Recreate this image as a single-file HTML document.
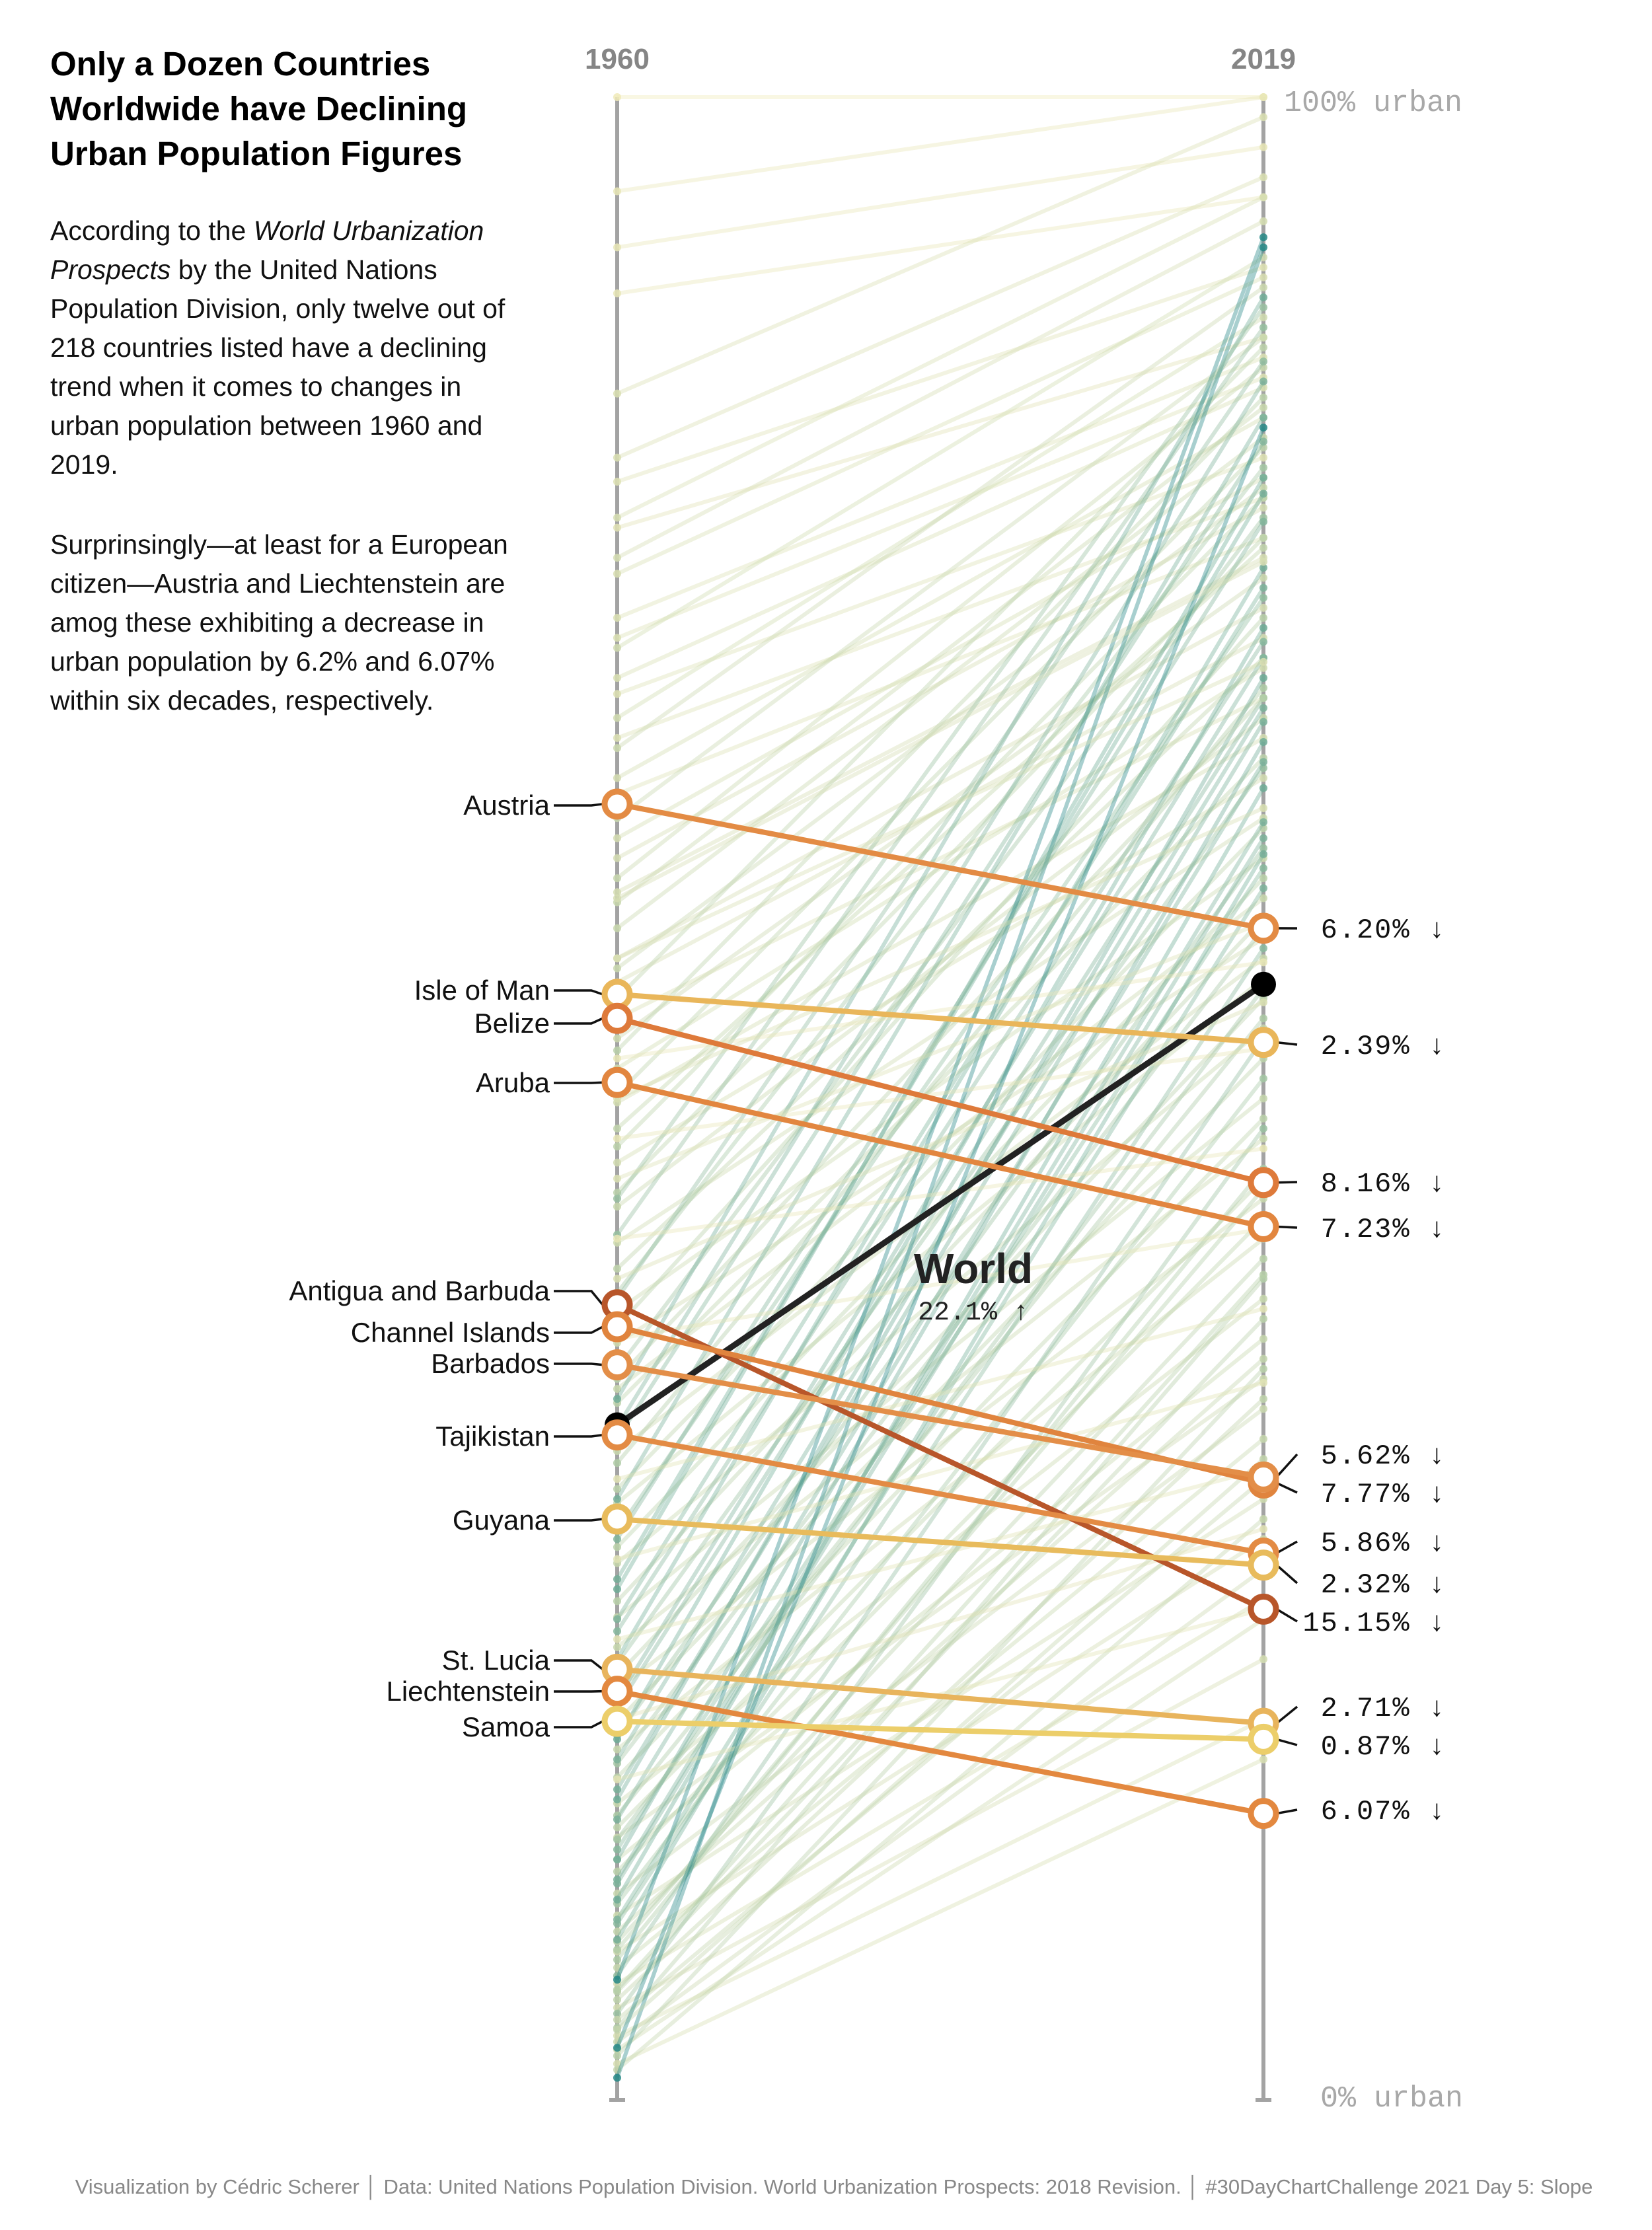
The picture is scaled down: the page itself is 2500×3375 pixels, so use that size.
<!DOCTYPE html>
<html><head><meta charset="utf-8"><style>
html,body{margin:0;padding:0;background:#fff;}
svg{display:block;}
.t{font-family:"Liberation Sans",sans-serif;}
.m{font-family:"Liberation Mono",monospace;}
</style></head><body>
<svg id="chart" width="2500" height="3375" viewBox="0 0 2500 3375" xmlns="http://www.w3.org/2000/svg">
<g class="t" font-weight="bold" font-size="51" fill="#000">
<text x="76" y="114">Only a Dozen Countries</text>
<text x="76" y="182">Worldwide have Declining</text>
<text x="76" y="250">Urban Population Figures</text>
</g>
<g class="t" font-size="41" fill="#111">
<text x="76" y="363">According to the <tspan font-style="italic">World Urbanization</tspan></text>
<text x="76" y="422"><tspan font-style="italic">Prospects</tspan> by the United Nations</text>
<text x="76" y="481">Population Division, only twelve out of</text>
<text x="76" y="540">218 countries listed have a declining</text>
<text x="76" y="599">trend when it comes to changes in</text>
<text x="76" y="658">urban population between 1960 and</text>
<text x="76" y="717">2019.</text>
<text x="76" y="838">Surprinsingly—at least for a European</text>
<text x="76" y="897">citizen—Austria and Liechtenstein are</text>
<text x="76" y="956">amog these exhibiting a decrease in</text>
<text x="76" y="1015">urban population by 6.2% and 6.07%</text>
<text x="76" y="1074">within six decades, respectively.</text>
</g>
<g id="axes"></g>
<g id="bg"></g>
<g id="hl"></g>
<text class="t" x="1262" y="3320" font-size="31" fill="#888" text-anchor="middle">Visualization by Cédric Scherer │ Data: United Nations Population Division. World Urbanization Prospects: 2018 Revision. │ #30DayChartChallenge 2021 Day 5: Slope</text>
</svg>
<script>
const years = ["1960","2019"];
const bg1960 = [100,95.3,92.5,90.2,85.2,82,80.8,79,78.5,77,76.2,74,73,72.5,71,70.2,69,68,67.5,66,65.2,64,63,62,61,60.3,59.8,58.5,57,56.5,55.8,55,54,53,52.4,51.5,50.2,49.8,48.5,47.6,46.8,45.3,44.6,43.2,42.8,41.5,40.3,39.4,38.6,37.8,36.5,35.5,34.8,33.6,32.4,31.8,30.5,29.8,28.4,27.6,26.8,25.5,24.9,24.1,23.4,22.6,21.8,21.2,20.5,19.6,18.9,18.2,17.5,16.8,16.1,15.5,14.8,14.2,13.6,13.1,12.5,12,11.4,10.8,10.3,9.8,9.2,8.8,8.4,7.9,7.4,7,6.6,6.2,5.8,5.4,5,4.6,4.3,4,3.6,3.2,2.9,2.5,2.2,1.8,1.5,1.1,35,30,26,22,18,15,12,10,8,6,45,40,33,28,24,20,17,14,11,9,52,48,43,38,31,27,23,19,16,13,7.5,5.5,3.5,2.6,60,57,50,46,41,36];
const bg2019 = [100,100,97.5,95,99,96,91.5,95,88,93.8,91,87,86,92,85.5,82,89,80,90.5,84,78,88,81,79.5,86.5,77,84.5,83,74.5,80.5,73,87.5,70,76,85,71.5,82.5,68,77.5,80,66,78,69,88.5,64,72,81.5,62,74,58,79,60,67,85.8,57,70.5,63.5,56,75,61,53.5,81,59,50,72.8,48,66.5,55,45,70,52,62.5,43,58.5,49,68.8,40,54,46,36,61.5,38,44,63,34.5,51,30,57.5,37,42,28,46.5,33,53,25,39,35,22,48.5,31,41,19,26.5,24,36.5,17,29,92.5,90,84,80.2,76.5,73.5,71,67.8,65.5,62.2,93,89.5,86.8,82.8,78.8,75.5,72,69.5,66.8,63.8,60.5,56.8,52.5,47.5,43.5,39.5,35.8,31.5,28.5,24.5,55.5,45.5,41.2,32,83.5,76.8,71.8,64.5,58.8,54.8,70];
const hlNames = ["Austria","Isle of Man","Belize","Aruba","Antigua and Barbuda","Channel Islands","Barbados","Tajikistan","Guyana","St. Lucia","Liechtenstein","Samoa"];
const hl1960 = [64.7,55.2,54.0,50.8,39.7,38.6,36.7,33.2,29.0,21.5,20.4,18.9];
const hl2019 = [58.5,52.8,45.8,43.6,24.5,30.8,31.1,27.3,26.7,18.8,14.3,18.0];
const hlChange = ["6.20%","2.39%","8.16%","7.23%","15.15%","7.77%","5.62%","5.86%","2.32%","2.71%","6.07%","0.87%"];
const hlColors = ["#e38b44","#e9b65a","#de7a3a","#e2863f","#b8562a","#e0843e","#e38e48","#e38b44","#e8bb5c","#e8b45c","#e3883f","#ecce6a"];
const world = [33.7,55.7];
const worldChange = "22.1%";

const NS="http://www.w3.org/2000/svg";
const X0=934, X1=1912, YT=147, YB=3178;
const xs = i => i===0?X0:X1;
const ys = v => YB - v*(YB-YT)/100;
function mk(tag, attrs, parent){const e=document.createElementNS(NS,tag);for(const k in attrs)e.setAttribute(k,attrs[k]);parent.appendChild(e);return e;}
const axes=document.getElementById('axes'), bg=document.getElementById('bg'), hl=document.getElementById('hl');

years.forEach((yr,i)=>{
  const l=mk('line',{x1:xs(i),x2:xs(i),y1:ys(100),y2:ys(0),stroke:'#a3a3a3','stroke-width':6},axes);
  
  
  const tk=mk('line',{x1:xs(i)-12,x2:xs(i)+12,y1:ys(0),y2:ys(0),stroke:'#a3a3a3','stroke-width':6},axes);
  
  
  const t=mk('text',{x:xs(i),y:104,'text-anchor':'middle','font-size':44,'font-weight':'bold',fill:'#858585',class:'t'},axes);
  t.textContent=yr;
  
  
});
const u1=mk('text',{x:1943,y:168,'font-size':45,fill:'#a8a8a8',class:'m'},axes);u1.textContent='100% urban';


const u0=mk('text',{x:1998,y:3188,'font-size':45,fill:'#a8a8a8',class:'m'},axes);u0.textContent='0% urban';



function lerp(a,b,t){return a+(b-a)*t;}
function col(ch){
  const t=Math.max(0,Math.min(1,ch/75));
  const A=[240,234,185],B=[180,206,168],C=[38,136,134];
  let r,g,b;
  if(t<0.5){const u=t/0.5;r=lerp(A[0],B[0],u);g=lerp(A[1],B[1],u);b=lerp(A[2],B[2],u);}
  else{const u=(t-0.5)/0.5;r=lerp(B[0],C[0],u);g=lerp(B[1],C[1],u);b=lerp(B[2],C[2],u);}
  return `rgb(${r|0},${g|0},${b|0})`;
}
const nBg=Math.min(bg1960.length,bg2019.length);
for(let i=0;i<nBg;i++){
  const v=bg1960[i], w=bg2019[i], c=col(w-v);
  const l=mk('line',{x1:X0,y1:ys(v),x2:X1,y2:ys(w),stroke:c,'stroke-width':6,'stroke-opacity':0.4},bg);
  
  
  const a=mk('circle',{cx:X0,cy:ys(v),r:6,fill:c,'fill-opacity':0.85},bg);
  
  
  const b=mk('circle',{cx:X1,cy:ys(w),r:6,fill:c,'fill-opacity':0.85},bg);
  
  
}

const wl=mk('line',{x1:X0,y1:ys(world[0]),x2:X1,y2:ys(world[1]),stroke:'#222','stroke-width':9},hl);


world.forEach((v,i)=>{
  const c=mk('circle',{cx:xs(i),cy:ys(v),r:19,fill:'#000'},hl);
  
  
});
const wt=mk('text',{x:1473,y:1942,'text-anchor':'middle','font-size':64,'font-weight':'bold',fill:'#222',class:'t'},hl);wt.textContent='World';


const wc=mk('text',{x:1473,y:1997,'text-anchor':'middle','font-size':40,fill:'#222',class:'m'},hl);wc.textContent=worldChange+' ↑';



const leftLab = [1219,1499,1549,1639,1954,2017,2064,2174,2301,2513,2560,2614];
const rightLab = [1405,1581,1789,1858,2454,2259,2201,2333,2396,2583,2739,2641];
hlNames.forEach((n,i)=>{
  const y0=ys(hl1960[i]), y1=ys(hl2019[i]), c=hlColors[i];
  const l=mk('line',{x1:X0,y1:y0,x2:X1,y2:y1,stroke:c,'stroke-width':8},hl);
  
  
  const ll=mk('path',{d:`M838 ${leftLab[i]} L895 ${leftLab[i]} L912 ${y0}`,stroke:'#111','stroke-width':3.5,fill:'none'},hl);
  
  
  const rl=mk('path',{d:`M1932 ${y1} L1963 ${rightLab[i]}`,stroke:'#111','stroke-width':3.5,fill:'none'},hl);
  
  
  [[X0,y0],[X1,y1]].forEach(p=>{
    const c2=mk('circle',{cx:p[0],cy:p[1],r:19,fill:'#fff',stroke:c,'stroke-width':9},hl);
    
    
  });
  const t=mk('text',{x:832,y:leftLab[i]+14,'text-anchor':'end','font-size':42,fill:'#111',class:'t'},hl);t.textContent=n;
  
  
  const r=mk('text',{x:2189,y:rightLab[i]+14,'text-anchor':'end','font-size':42,fill:'#111',class:'m','letter-spacing':2},hl);r.textContent=hlChange[i]+' ↓';
  
  
});
</script>
</body></html>
